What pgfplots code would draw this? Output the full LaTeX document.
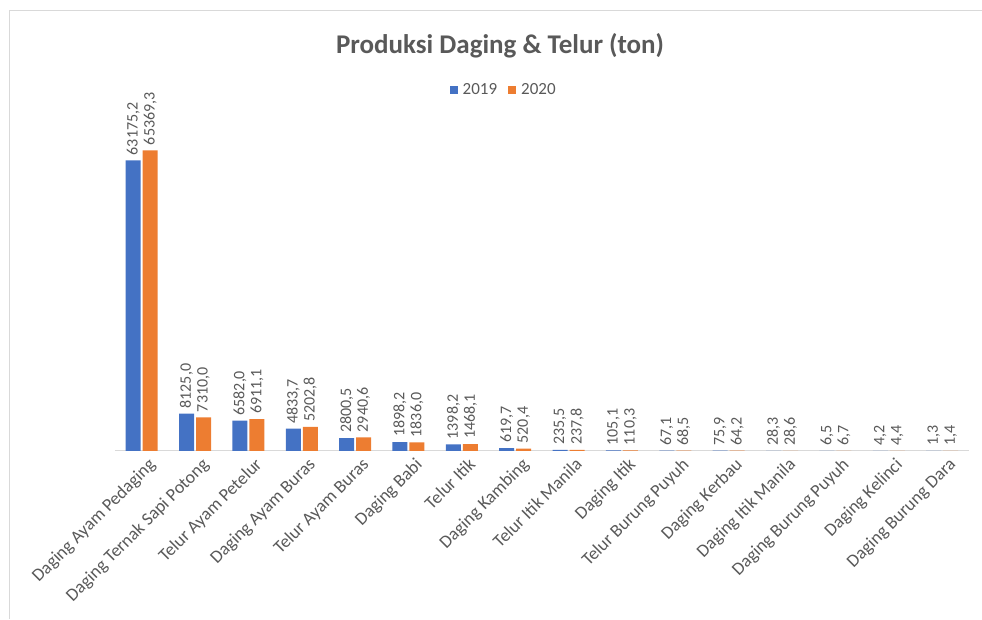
\documentclass[border=0pt]{standalone}
\usepackage{fontspec}
\setmainfont{Carlito}
\usepackage{pgfplots}
\pgfplotsset{compat=1.18}
\definecolor{Blu}{HTML}{4472C4}
\definecolor{Ora}{HTML}{ED7D31}
\definecolor{Txt}{HTML}{595959}
\definecolor{Ln}{HTML}{D9D9D9}

\pgfplotstableread{
idx y2019 y2020
0 63175.2 65369.3
1 8125.0 7310.0
2 6582.0 6911.1
3 4833.7 5202.8
4 2800.5 2940.6
5 1898.2 1836.0
6 1398.2 1468.1
7 619.7 520.4
8 235.5 237.8
9 105.1 110.3
10 67.1 68.5
11 75.9 64.2
12 28.3 28.6
13 6.5 6.7
14 4.2 4.4
15 1.3 1.4
}\prod

\begin{document}
\begin{tikzpicture}[x=1pt,y=1pt]
\path (0,0) rectangle (982,619);
\draw[Ln] (9,0) -- (9,609) -- (982,609);
\begin{axis}[
    at={(115pt,168pt)}, anchor=south west,
    scale only axis,
    width=854pt, height=322pt,
    ybar=2pt, bar width=15pt,
    xmin=-0.5, xmax=15.5,
    ymin=0, ymax=70000,
    axis x line*=bottom,
    axis y line=none,
    x axis line style={draw=Ln, line width=1pt},
    xtick=data,
    major tick length=0pt,
    xticklabels={Daging Ayam Pedaging, Daging Ternak Sapi Potong, Telur Ayam Petelur, Daging Ayam Buras, Telur Ayam Buras, Daging Babi, Telur Itik, Daging Kambing, Telur Itik Manila, Daging Itik, Telur Burung Puyuh, Daging Kerbau, Daging Itik Manila, Daging Burung Puyuh, Daging Kelinci, Daging Burung Dara},
    x tick label style={rotate=45, anchor=north east, font=\fontsize{18}{20}\selectfont, text=Txt, inner sep=3pt, xshift=3pt, yshift=-5pt},
    nodes near coords,
    nodes near coords style={rotate=90, anchor=west, font=\fontsize{16}{18}\selectfont, text=Txt, inner sep=5pt,
      /pgf/number format/.cd, fixed, fixed zerofill, precision=1, use comma, 1000 sep={}, assume math mode=true},
    clip=false,
    title={Produksi Daging \& Telur (ton)},
    title style={at={(0.451,1)}, anchor=center, yshift=77pt, font=\bfseries\fontsize{27}{31}\selectfont, text=Txt},
    legend columns=2,
    legend style={at={(0.457,1)}, anchor=center, yshift=39pt, draw=none, fill=none,
      font=\fontsize{17}{19}\selectfont, text=Txt,
      nodes={inner xsep=5pt},
      /tikz/every even column/.append style={column sep=6pt}},
    legend image code/.code={\fill[#1] (0pt,-4pt) rectangle (8pt,4pt);},
]
\addplot[fill=Blu, draw=none] table[x=idx, y=y2019] {\prod};
\addplot[fill=Ora, draw=none] table[x=idx, y=y2020] {\prod};
\legend{2019, 2020}
\end{axis}
\end{tikzpicture}
\end{document}
